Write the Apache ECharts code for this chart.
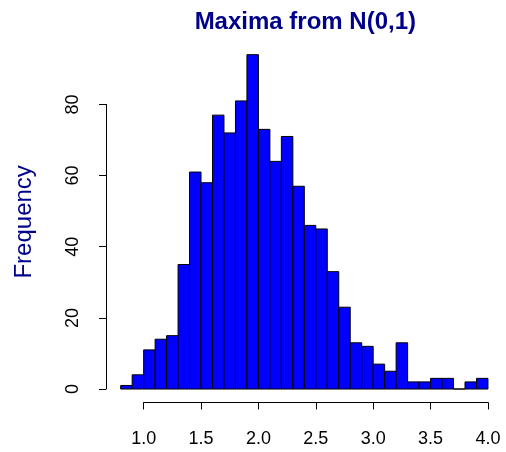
<!DOCTYPE html>
<html>
<head>
<meta charset="utf-8">
<script src="https://cdn.jsdelivr.net/npm/echarts@6/dist/echarts.min.js"></script>
<style>html,body{margin:0;padding:0;background:#fff;}#c{width:506px;height:452px;}</style>
</head>
<body>
<div id="c"></div>
<script>
const titleText = 'Maxima from N(0,1)';
const yLabel = 'Frequency';
const breaks = [0.8,0.9,1.0,1.1,1.2,1.3,1.4,1.5,1.6,1.7,1.8,1.9,2.0,2.1,2.2,2.3,2.4,2.5,2.6,2.7,2.8,2.9,3.0,3.1,3.2,3.3,3.4,3.5,3.6,3.7,3.8,3.9,4.0];
const counts = [1,4,11,14,15,35,61,58,77,72,81,94,73,64,71,57,46,45,33,23,13,12,7,5,13,2,2,3,3,0,2,3];
const xTicks = [1.0,1.5,2.0,2.5,3.0,3.5,4.0];
const yTicks = [0,20,40,60,80];

const histData = counts.map((c, i) => [breaks[i], breaks[i + 1], c]);

const chart = echarts.init(document.getElementById('c'), null, {renderer: 'canvas'});
const labelFont = 'Liberation Sans, Arial, Helvetica, sans-serif';
const PX = 114.77; // px per x unit
const PY = 3.557;  // px per count
const plotLeft = 106, plotBottom = 402.4;
const xMin = 0.672, xMax = 4.128, yMin = -3.76, yMax = 97.76;
const plotTop = plotBottom - (yMax - yMin) * PY;
const plotWidth = (xMax - xMin) * PX;
const x1px = plotLeft + (xTicks[0] - xMin) * PX;
const y0px = plotBottom - (0 - yMin) * PY;

chart.setOption({
  animation: false,
  backgroundColor: '#fff',
  title: {
    text: titleText, left: plotLeft + plotWidth / 2 - 4, top: 5, textAlign: 'center',
    textStyle: {fontFamily: labelFont, fontWeight: 'bold', fontSize: 24, color: '#00008B'}
  },
  grid: [
    {left: plotLeft, top: plotTop, width: plotWidth, height: plotBottom - plotTop},
    {left: x1px, top: plotTop, width: (xTicks[xTicks.length-1] - xTicks[0]) * PX, height: plotBottom - plotTop},
    {left: plotLeft, top: y0px - (yTicks[yTicks.length-1]) * PY, width: plotWidth, height: yTicks[yTicks.length-1] * PY}
  ],
  xAxis: [
    {gridIndex: 0, type: 'value', min: xMin, max: xMax, show: false},
    {gridIndex: 1, type: 'value', min: xTicks[0], max: xTicks[xTicks.length-1], interval: 0.5,
     axisLine: {show: true, lineStyle: {color: '#000', width: 1}},
     axisTick: {show: true, length: 7, lineStyle: {color: '#000', width: 1}},
     axisLabel: {show: true, margin: 28, color: '#000', fontSize: 18, fontFamily: labelFont,
                 formatter: v => v.toFixed(1)},
     splitLine: {show: false}},
    {gridIndex: 2, type: 'value', min: 0, max: 1, show: false}
  ],
  yAxis: [
    {gridIndex: 0, type: 'value', min: yMin, max: yMax, show: true,
     name: yLabel, nameLocation: 'middle', nameGap: 70, nameRotate: 90,
     nameTextStyle: {color: '#00008B', fontSize: 24, fontFamily: labelFont},
     axisLine: {show: false}, axisTick: {show: false}, axisLabel: {show: false}, splitLine: {show: false}},
    {gridIndex: 1, type: 'value', min: 0, max: 1, show: false},
    {gridIndex: 2, type: 'value', min: yTicks[0], max: yTicks[yTicks.length-1], interval: 20,
     axisLine: {show: true, lineStyle: {color: '#000', width: 1}},
     axisTick: {show: true, length: 7, lineStyle: {color: '#000', width: 1}},
     axisLabel: {show: true, rotate: 90, margin: 24, color: '#000', fontSize: 18, fontFamily: labelFont},
     splitLine: {show: false}}
  ],
  series: [{
    type: 'custom',
    xAxisIndex: 0, yAxisIndex: 0,
    data: histData,
    encode: {x: [0, 1], y: 2},
    renderItem: function (params, api) {
      const p0 = api.coord([api.value(0), 0]);
      const p1 = api.coord([api.value(1), api.value(2)]);
      return {
        type: 'rect',
        shape: {x: p0[0], y: p1[1], width: p1[0] - p0[0], height: p0[1] - p1[1]},
        style: {fill: '#0000FF', stroke: '#000', lineWidth: 1}
      };
    }
  }]
});
</script>
</body>
</html>
